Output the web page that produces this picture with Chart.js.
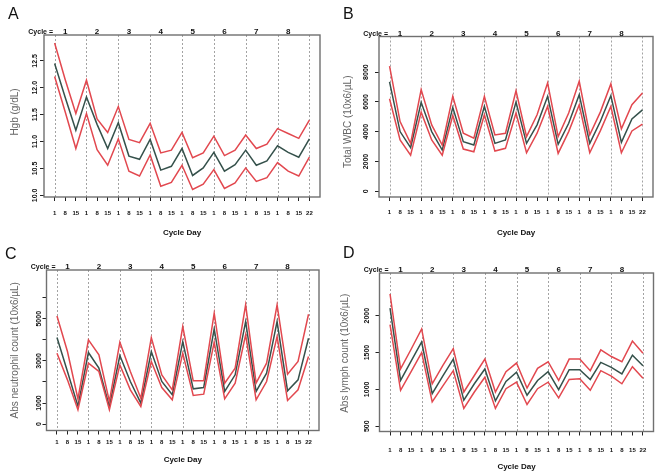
<!DOCTYPE html>
<html>
<head>
<meta charset="utf-8">
<script src="https://cdn.jsdelivr.net/npm/chart.js@4.4.1/dist/chart.umd.min.js"></script>
<style>
html, body { margin: 0; padding: 0; background: #fff; }
#wrap { position: relative; width: 660px; height: 475px; overflow: hidden; }
.panel { position: absolute; }
</style>
</head>
<body>
<div id="wrap">
  <div class="panel" style="left:0;top:0"><canvas id="chartA" width="330" height="237"></canvas></div>
  <div class="panel" style="left:330px;top:0"><canvas id="chartB" width="330" height="237"></canvas></div>
  <div class="panel" style="left:0;top:237px"><canvas id="chartC" width="330" height="238"></canvas></div>
  <div class="panel" style="left:330px;top:237px"><canvas id="chartD" width="330" height="238"></canvas></div>
</div>
<script>
// x axis: 8 cycles x days 1/8/15, plus day 22 of cycle 8
const dayLabels = ['1','8','15','1','8','15','1','8','15','1','8','15','1','8','15','1','8','15','1','8','15','1','8','15','22'];
const cycleNames = ['1','2','3','4','5','6','7','8'];
const cycleStarts = [0, 3, 6, 9, 12, 15, 18, 21, 24]; // dashed lines
const cycleLabelAt = [1, 4, 7, 10, 13, 16, 19, 22];

// A - Hgb (g/dL)
const hgbMean  = [12.45, 11.82, 11.21, 11.83, 11.32, 10.87, 11.35, 10.73, 10.67, 11.04, 10.47, 10.54, 10.87, 10.37, 10.51, 10.80, 10.45, 10.57, 10.84, 10.56, 10.64, 10.92, 10.80, 10.71, 11.05];
const hgbUpper = [12.83, 12.15, 11.52, 12.14, 11.42, 11.17, 11.65, 11.04, 10.98, 11.34, 10.79, 10.84, 11.17, 10.70, 10.79, 11.10, 10.74, 10.84, 11.12, 10.87, 10.95, 11.24, 11.15, 11.06, 11.40];
const hgbLower = [12.21, 11.55, 10.87, 11.52, 10.85, 10.56, 11.05, 10.45, 10.36, 10.75, 10.17, 10.24, 10.56, 10.11, 10.21, 10.48, 10.13, 10.23, 10.51, 10.26, 10.33, 10.61, 10.45, 10.36, 10.71];
const hgbTicks = [10.0, 10.5, 11.0, 11.5, 12.0, 12.5];
const hgbTickLabels = ['10.0', '10.5', '11.0', '11.5', '12.0', '12.5'];

// B - Total WBC
const wbcMean  = [7345, 4010, 2930, 5970, 4010, 2770, 5630, 3330, 3110, 5700, 3220, 3445, 5990, 3220, 4460, 6375, 3155, 4570, 6490, 3220, 4685, 6420, 3290, 4865, 5470];
const wbcUpper = [8400, 4685, 3220, 6825, 4460, 3110, 6375, 3900, 3560, 6375, 3785, 3900, 6750, 3670, 5135, 7275, 3670, 5250, 7385, 3785, 5315, 7210, 4190, 5810, 6600];
const wbcLower = [6215, 3445, 2430, 5315, 3445, 2430, 5090, 2840, 2655, 5135, 2700, 2885, 5250, 2590, 3900, 5700, 2545, 4010, 5810, 2590, 4055, 5700, 2590, 4055, 4505];
const wbcTicks = [0, 2000, 4000, 6000, 8000];
const wbcTickLabels = ['0', '2000', '4000', '6000', '8000'];

// C - Abs neutrophil count
const ancMean  = [4107, 2500, 850, 3397, 2654, 837, 3254, 2022, 995, 3444, 2022, 1390, 3918, 1675, 1738, 4518, 1548, 2338, 4866, 1548, 2417, 4866, 1580, 2101, 4076];
const ancUpper = [5130, 3444, 1200, 3997, 3286, 1074, 3886, 2496, 1232, 4107, 2338, 1627, 4629, 2054, 2054, 5261, 1943, 2654, 5656, 1943, 2891, 5656, 2370, 2970, 5213];
const ancLower = [3365, 2100, 680, 2891, 2496, 680, 2812, 1627, 837, 2970, 1738, 1153, 3365, 1359, 1422, 3886, 1200, 1943, 4234, 1153, 2022, 4155, 1122, 1627, 3207];
const ancTicks = [0, 1000, 2000, 3000, 4000, 5000, 6000];
const ancTickLabels = ['0', '1000', '', '3000', '', '5000', ''];

// D - Abs lymph count
const almMean  = [2103, 1121, 1384, 1643, 942, 1179, 1411, 853, 1076, 1277, 844, 1107, 1232, 920, 1121, 1241, 996, 1268, 1268, 1134, 1366, 1299, 1210, 1464, 1321];
const almUpper = [2295, 1277, 1545, 1821, 1076, 1321, 1554, 964, 1188, 1411, 964, 1241, 1357, 1018, 1286, 1375, 1121, 1411, 1411, 1254, 1536, 1446, 1375, 1656, 1491];
const almLower = [1880, 987, 1241, 1500, 830, 1045, 1254, 741, 964, 1165, 741, 1009, 1098, 795, 1009, 1098, 884, 1134, 1143, 987, 1254, 1179, 1076, 1308, 1152];
const almTicks = [500, 1000, 1500, 2000];
const almTickLabels = ['500', '1000', '1500', '2000'];

const FONT = '"Liberation Sans", Arial, sans-serif';
const RED = '#e2484f';
const DARK = '#35514b';

// draws the R-style decorations (box, dashed cycle lines, labels) from the chart scales
function makeDecor(p) {
    return {
        id: 'decor',
        beforeDatasetsDraw(chart) {
            const ctx = chart.ctx, a = chart.chartArea, x = chart.scales.x;
            ctx.save();
            ctx.strokeStyle = '#a3a3a3';
            ctx.lineWidth = 1;
            ctx.setLineDash([2, 2]);
            cycleStarts.forEach(v => {
                const px = Math.round(x.getPixelForValue(v)) + 0.5;
                ctx.beginPath();
                ctx.moveTo(px, a.top);
                ctx.lineTo(px, a.bottom);
                ctx.stroke();
            });
            ctx.restore();
        },
        afterDraw(chart) {
            const ctx = chart.ctx, a = chart.chartArea, x = chart.scales.x, y = chart.scales.y;
            ctx.save();
            ctx.strokeStyle = '#707070';
            ctx.lineWidth = 1.4;
            ctx.strokeRect(a.left, a.top, a.right - a.left, a.bottom - a.top);

            ctx.fillStyle = '#111';
            ctx.font = '16px ' + FONT;
            ctx.textAlign = 'left';
            ctx.textBaseline = 'alphabetic';
            ctx.fillText(p.letter, p.letterX, p.letterY);

            //cycle row above the box
            ctx.font = 'bold 7px ' + FONT;
            ctx.textAlign = 'right';
            ctx.fillText('Cycle =', a.left + 9, a.top - 1);
            ctx.font = 'bold 8px ' + FONT;
            ctx.textAlign = 'center';
            cycleNames.forEach((c, i) => ctx.fillText(c, x.getPixelForValue(cycleLabelAt[i]), a.top - 1));

            //day labels and x title
            ctx.textBaseline = 'middle';
            ctx.font = 'bold 6px ' + FONT;
            dayLabels.forEach((d, i) => ctx.fillText(d, x.getPixelForValue(i), a.bottom + p.dayGap));
            ctx.font = 'bold 8px ' + FONT;
            ctx.fillText('Cycle Day', (a.left + a.right) / 2, a.bottom + p.titleGap);

            //rotated y tick labels
            ctx.font = 'bold 7px ' + FONT;
            p.yTicks.forEach((v, i) => {
                ctx.save();
                ctx.translate(a.left - p.yLabGap, y.getPixelForValue(v));
                ctx.rotate(-Math.PI / 2);
                ctx.fillText(p.yLabels[i], 0, 0);
                ctx.restore();
            });

            //y title
            ctx.font = '10px ' + FONT;
            ctx.fillStyle = '#666';
            ctx.translate(p.yTitleX, (a.top + a.bottom) / 2 + p.yTitleDy);
            ctx.rotate(-Math.PI / 2);
            ctx.fillText(p.yTitle, 0, 0);
            ctx.restore();
        }
    };
}

function toXY(values) {
    return values.map((v, i) => ({ x: i, y: v }));
}

function drawPanel(p) {
    const line = (vals, color) => ({
        data: toXY(vals),
        borderColor: color,
        backgroundColor: color,
        borderWidth: 1.5,
        pointRadius: 0,
        tension: 0,
        fill: false
    });
    const config = {
        type: 'line',
        data: {
            datasets: [
                line(p.upper, RED),
                line(p.lower, RED),
                line(p.mean, DARK)
            ]
        },
        options: {
            responsive: false,
            animation: false,
            layout: { padding: p.pad },
            plugins: { legend: { display: false }, tooltip: { enabled: false } },
            scales: {
                x: {
                    type: 'linear', min: -1, max: 25,
                    afterBuildTicks: s => { s.ticks = dayLabels.map((d, i) => ({ value: i })); },
                    ticks: { display: false },
                    grid: { drawOnChartArea: false, tickLength: 4, tickColor: '#222', tickWidth: 1 },
                    border: { display: false }
                },
                y: {
                    type: 'linear', min: p.min, max: p.max,
                    afterBuildTicks: s => { s.ticks = p.yTicks.map(v => ({ value: v })); },
                    ticks: { display: false },
                    grid: { drawOnChartArea: false, tickLength: 4, tickColor: '#222', tickWidth: 1 },
                    border: { display: false }
                }
            }
        },
        plugins: [makeDecor(p)]
    };
    return new Chart(document.getElementById(p.id), config);
}

drawPanel({
    id: 'chartA', letter: 'A', letterX: 8, letterY: 19,
    mean: hgbMean, upper: hgbUpper, lower: hgbLower,
    min: 9.97, max: 12.98, yTicks: hgbTicks, yLabels: hgbTickLabels,
    yTitle: 'Hgb (g/dL)', yTitleX: 15, yTitleDy: -4, yLabGap: 9,
    pad: { left: 40, right: 10, top: 35, bottom: 36 },
    dayGap: 16, titleGap: 36
});
drawPanel({
    id: 'chartB', letter: 'B', letterX: 13, letterY: 19,
    mean: wbcMean, upper: wbcUpper, lower: wbcLower,
    min: -380, max: 10390, yTicks: wbcTicks, yLabels: wbcTickLabels,
    yTitle: 'Total WBC (10x6/\u00b5L)', yTitleX: 18, yTitleDy: 5, yLabGap: 13,
    pad: { left: 45, right: 7, top: 36.5, bottom: 36 },
    dayGap: 15, titleGap: 36
});
drawPanel({
    id: 'chartC', letter: 'C', letterX: 5, letterY: 22,
    mean: ancMean, upper: ancUpper, lower: ancLower,
    min: -303, max: 7313, yTicks: ancTicks, yLabels: ancTickLabels,
    yTitle: 'Abs neutrophil count (10x6/\u00b5L)', yTitleX: 15, yTitleDy: 0, yLabGap: 7.5,
    pad: { left: 42.5, right: 11, top: 33, bottom: 40.5 },
    dayGap: 11.5, titleGap: 29.5
});
drawPanel({
    id: 'chartD', letter: 'D', letterX: 13, letterY: 21,
    mean: almMean, upper: almUpper, lower: almLower,
    min: 428, max: 2580, yTicks: almTicks, yLabels: almTickLabels,
    yTitle: 'Abs lymph count (10x6/\u00b5L)', yTitleX: 15, yTitleDy: 1, yLabGap: 12.5,
    pad: { left: 45.5, right: 6.5, top: 36, bottom: 39.5 },
    dayGap: 18.5, titleGap: 35.5
});
</script>
</body>
</html>
